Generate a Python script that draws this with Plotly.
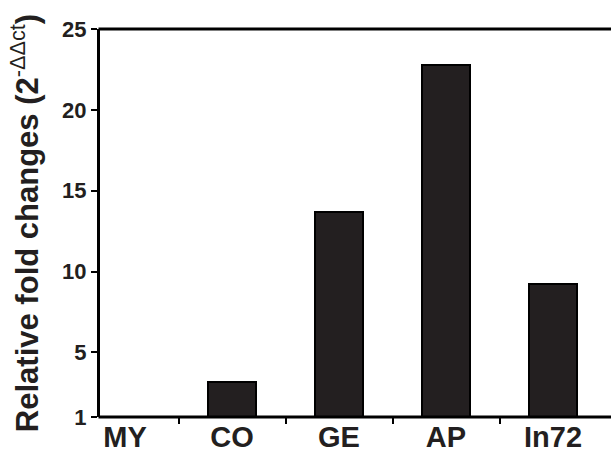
import plotly.graph_objects as go

categories = ["MY", "CO", "GE", "AP", "In72"]
values = [1.0, 3.15, 13.7, 22.8, 9.2]
y_ticks = [1, 5, 10, 15, 20, 25]

fig = go.Figure()
fig.add_trace(go.Bar(
    x=categories, y=values, base=0, width=0.45,
    marker=dict(color="#231f20", line=dict(color="#000000", width=2)),
))

font = "Liberation Sans, Arial, sans-serif"
plot_w = 611 - 100 - 6
ext = 1 + 6.0 / plot_w
pre = -1.5 / plot_w
fig.update_layout(
    width=611, height=458,
    margin=dict(l=100, r=6, t=29, b=41, autoexpand=False),
    paper_bgcolor="white", plot_bgcolor="white",
    showlegend=False,
    bargap=0,
    font=dict(family=font, color="#231f20"),
    xaxis=dict(
        type="category", range=[-0.234, 4.486], automargin=False,
        showline=False,
        ticks="outside", tickson="boundaries", ticklen=6, tickwidth=2, tickcolor="#000000",
        tickfont=dict(family=font, size=29, color="#231f20", weight="bold"),
        ticklabelstandoff=0,
        showgrid=False, zeroline=False,
    ),
    yaxis=dict(
        range=[1, 25], tickvals=y_ticks, automargin=False,
        showline=True, linecolor="#000000", linewidth=3, mirror=False,
        ticks="outside", ticklen=6, tickwidth=2, tickcolor="#000000",
        tickfont=dict(family=font, size=22, color="#231f20", weight="bold"),
        showgrid=False, zeroline=False,
        title=dict(
            text="<b>Relative fold changes (2</b><sup>-ΔΔct</sup><b>)</b>",
            font=dict(family=font, size=31, color="#231f20"),
            standoff=15,
        ),
    ),
    shapes=[
        dict(type="line", xref="paper", yref="paper", x0=pre, x1=ext, y0=1, y1=1,
             line=dict(color="#000000", width=3)),
        dict(type="line", xref="paper", yref="paper", x0=pre, x1=ext, y0=0, y1=0,
             line=dict(color="#000000", width=3)),
    ],
)

fig.write_html("out.html", config={"displayModeBar": False},
               post_script="document.body.style.margin='0';")
